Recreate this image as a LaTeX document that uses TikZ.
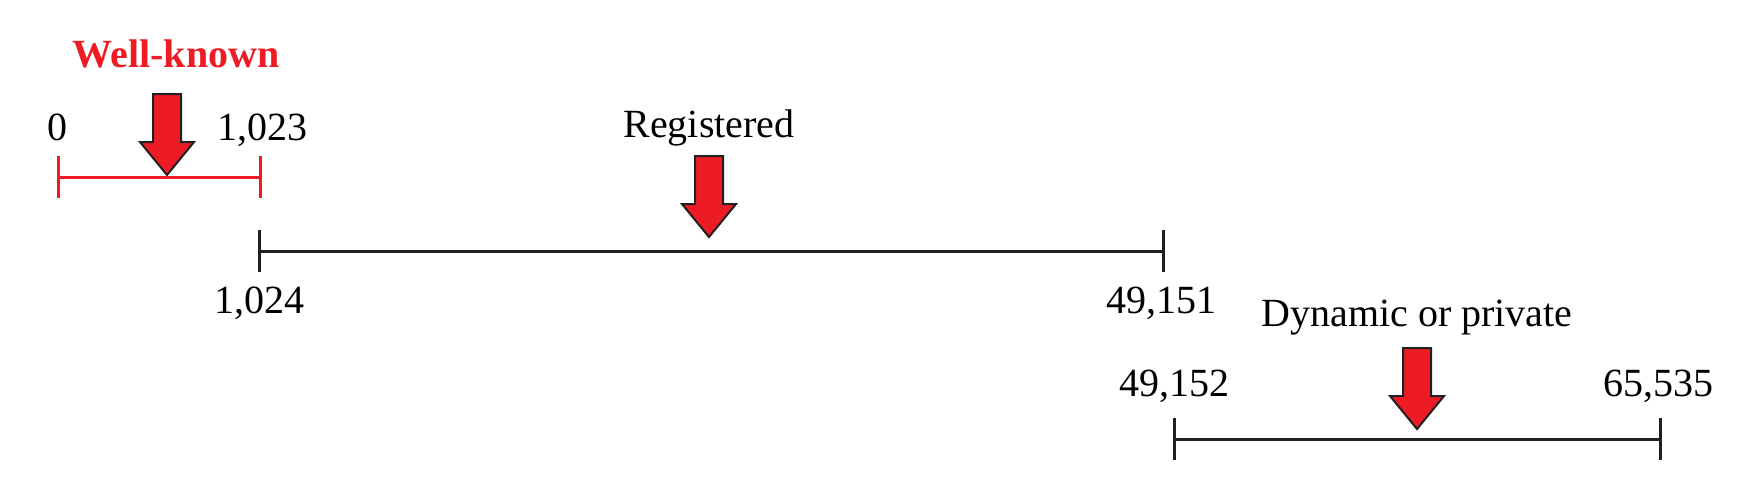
\documentclass[tikz,border=0pt]{standalone}
\usepackage{fontspec}
\setmainfont{Liberation Serif}
\usepackage{tikz}
\definecolor{portred}{RGB}{237,28,36}
\definecolor{portblack}{RGB}{35,31,32}
\newcommand{\portrange}[3] {\draw [rangebar, #3] (#1) ++(0,-21) -- ++(0,42) (#1) -- (#2) (#2) ++(0,-21) -- ++(0,42);}
\newcommand{\portarrow}[1] {\draw [blockarrow] (#1) -- ++(-27,-33) -- ++(13,0) -- ++(0,-48) -- ++(28,0) -- ++(0,48) -- ++(13,0) -- cycle;}

\begin{document}
\begin{tikzpicture}[x=0.25pt, y=-0.25pt,
  portlabel/.style={anchor=base, inner sep=0pt, font=\fontsize{10}{12}\selectfont},
  rangebar/.style={line width=0.75pt, portblack},
  blockarrow/.style={draw=portblack, fill=portred, line width=0.5pt, line join=miter}]
\useasboundingbox (0,0) rectangle (1742,476);

% well-known
\node [portlabel, portred, font=\fontsize{10}{12}\selectfont\bfseries] (wellknown) at (176,67) {Well-known};
\node [portlabel] (wkstart) at (58,140) {0};
\node [portlabel] (wkend) at (262,140) {1,023};
\coordinate (wka) at (58,177);
\coordinate (wkb) at (260,177);
\portrange{wka}{wkb}{portred};
\coordinate (wktip) at (167,175);
\portarrow{wktip};

% registered
\node [portlabel] (registered) at (709,137) {Registered};
\node [portlabel] (regstart) at (259,313) {1,024};
\node [portlabel] (regend) at (1161,313) {49,151};
\coordinate (rega) at (259,251);
\coordinate (regb) at (1163,251);
\portrange{rega}{regb}{};
\coordinate (regtip) at (709,237);
\portarrow{regtip};

% dynamic or private
\node [portlabel] (dynamic) at (1417,326) {Dynamic or private};
\node [portlabel] (dynstart) at (1174,396) {49,152};
\node [portlabel] (dynend) at (1658,396) {65,535};
\coordinate (dyna) at (1174,439);
\coordinate (dynb) at (1660,439);
\portrange{dyna}{dynb}{};
\coordinate (dyntip) at (1417,429);
\portarrow{dyntip};
\end{tikzpicture}
\end{document}
